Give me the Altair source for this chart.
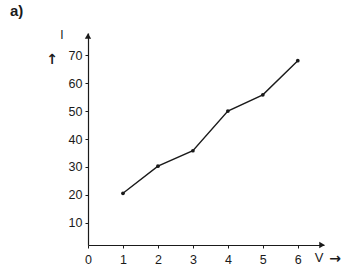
import altair as alt
import pandas as pd

volts = [1, 2, 3, 4, 5, 6]
current = [20.6, 30.3, 35.8, 50.0, 55.8, 68.0]
x_ticks = [0, 1, 2, 3, 4, 5, 6]
y_ticks = [10, 20, 30, 40, 50, 60, 70]

df = pd.DataFrame({"V": volts, "I": current})

XDOM = [0, 6.75]
YDOM = [2.1, 77.9]
FONT = "Liberation Sans"
INK = "#1a1a1a"

xs = alt.Scale(domain=XDOM, nice=False, zero=False)
ys = alt.Scale(domain=YDOM, nice=False, zero=False)

common = dict(title=None, grid=False, domainColor=INK, domainWidth=1.2,
              tickColor=INK, tickSize=3, labelFont=FONT, labelFontSize=12.5,
              labelColor=INK, labelOverlap=False, labelFlush=False, format="d")
xaxis = alt.Axis(values=x_ticks, labelPadding=5, **common)
yaxis = alt.Axis(values=y_ticks, labelPadding=3, **common)

base = alt.Chart(df)

line = base.mark_line(color=INK, strokeWidth=1.4).encode(
    x=alt.X("V:Q", scale=xs, axis=xaxis),
    y=alt.Y("I:Q", scale=ys, axis=yaxis),
)

pts = base.mark_circle(color=INK, size=14, opacity=1).encode(
    x=alt.X("V:Q", scale=xs, axis=xaxis),
    y=alt.Y("I:Q", scale=ys, axis=yaxis),
)

# arrow heads on axes
arrow_y = alt.Chart(pd.DataFrame({"a": [0]})).mark_point(
    shape="triangle-up", filled=True, color=INK, size=40, opacity=1).encode(
    x=alt.value(0), y=alt.value(3))
arrow_x = alt.Chart(pd.DataFrame({"a": [0]})).mark_point(
    shape="triangle-right", filled=True, color=INK, size=40, opacity=1).encode(
    x=alt.value(234), y=alt.value(212))

def label(text, x, y, size=12.5, weight="normal", align="center", font=FONT):
    return alt.Chart(pd.DataFrame({"t": [text]})).mark_text(
        font=font, fontSize=size, color=INK, fill=INK, fontWeight=weight,
        align=align, baseline="middle").encode(
        text="t:N", x=alt.value(x), y=alt.value(y))

chart = alt.layer(
    line, pts, arrow_y, arrow_x,
    label("a)", -78, -22, size=15, weight="bold", align="left"),
    label("I", -26, 2, size=12),
    label("↑", -36, 27, size=14, weight="bold", font="DejaVu Sans"),
    label("V", 231, 225, size=13),
    label("→", 247, 226, size=14, weight="bold", font="DejaVu Sans"),
).properties(
    width=236, height=212,
    autosize=alt.AutoSizeParams(type="none"),
    padding={"left": 88, "top": 33, "right": 25, "bottom": 20},
    background="white",
).configure_view(stroke=None)

chart.save("out.html", embed_options={"renderer": "svg", "actions": False})
